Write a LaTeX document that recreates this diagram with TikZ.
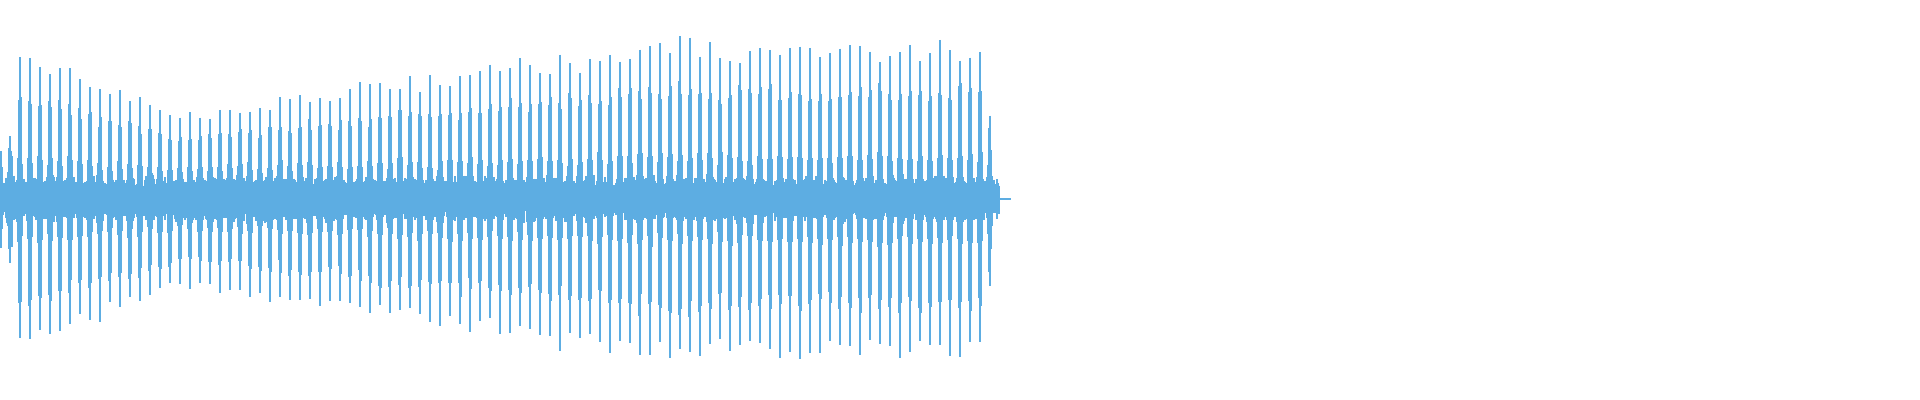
\documentclass[tikz,border=0pt]{standalone}
\definecolor{wave}{HTML}{5DADE2}
\begin{document}
\begin{tikzpicture}[x=0.01cm,y=-0.01cm,wavel/.style={draw=wave,line width=0.3pt}]
\useasboundingbox (0,0) rectangle (1920,400);
\pgfmathsetseed{7}
\foreach \i in {1,...,1000}{
  \pgfmathsetmacro\xx{\i*1.0}
  \pgfmathsetmacro\env{(\xx<12)*50 + (\xx>=12)*(\xx<180)*(140-(\xx-12)*0.4167) + (\xx>=180)*(\xx<700)*(70+(\xx-180)*0.1538) + (\xx>=700)*(\xx<985)*140 + (\xx>=985)*max(0,140-(\xx-985)*0.01*14*100)}
  \pgfmathsetmacro\cc{cos(mod(\xx,20)*18)}
  \pgfmathsetmacro\pp{\cc*\cc*\cc*\cc*\cc*\cc*\cc*\cc}
  \pgfmathsetmacro\bb{(\xx<1000)*(10+8*rnd) + 0.5}
  \pgfmathsetmacro\uu{\bb+\env*\pp*(0.85+0.15*rnd)+6*rnd*(\xx<1000)}
  \pgfmathsetmacro\dd{\bb+\env*\pp*(0.85+0.15*rnd)+6*rnd*(\xx<1000)}
  \draw[wavel] (\xx,199-\uu) -- (\xx,199+\dd);
}
\draw[wave,dashed,line width=0.4pt] (1000,199) -- (1020,199);
\end{tikzpicture}
\end{document}
